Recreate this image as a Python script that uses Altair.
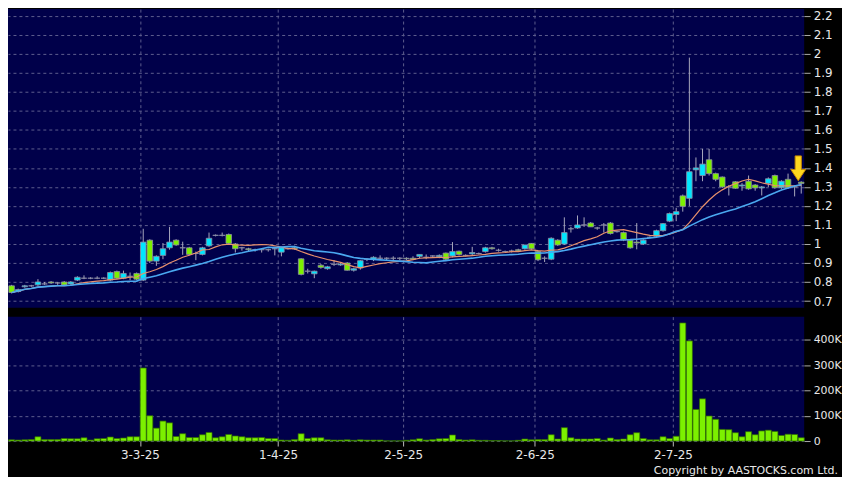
import altair as alt
import pandas as pd

# ---------------- data ----------------
tick_labels = ["3-3-25", "1-4-25", "2-5-25", "2-6-25", "2-7-25"]
tick_index = [20, 41, 60, 80, 101]          # trading-day index of first session of each month
price_ticks = [0.7, 0.8, 0.9, 1.0, 1.1, 1.2, 1.3, 1.4, 1.5, 1.6, 1.7, 1.8, 1.9, 2.0, 2.1, 2.2]
volume_ticks = [0, 100000, 200000, 300000, 400000]
copyright_text = "Copyright by AASTOCKS.com Ltd."

opens = [0.78, 0.75, 0.775, 0.78, 0.785, 0.79, 0.80, 0.795, 0.80, 0.79,
         0.81, 0.82, 0.82, 0.82, 0.82, 0.81, 0.855, 0.82, 0.83, 0.845,
         0.81, 1.02, 0.91, 0.94, 0.98, 1.02, 0.98, 0.98, 0.95, 0.945,
         0.99, 1.045, 1.045, 1.05, 1.0, 0.98, 0.975, 0.97, 0.97, 0.97,
         0.975, 0.957, 0.975, 0.98, 0.922, 0.857, 0.843, 0.888, 0.87, 0.893,
         0.89, 0.90, 0.862, 0.874, 0.92, 0.92, 0.925, 0.925, 0.925, 0.925,
         0.925, 0.925, 0.935, 0.93, 0.937, 0.933, 0.952, 0.937, 0.962, 0.94,
         0.948, 0.95, 0.96, 0.98, 0.967, 0.96, 0.963, 0.97, 0.975, 1.003,
         0.96, 0.925, 0.92, 1.02, 1.0, 1.08, 1.084, 1.10, 1.11, 1.084,
         1.10, 1.11, 1.065, 1.06, 1.02, 1.01, 1.0, 1.035, 1.04, 1.07,
         1.12, 1.155, 1.253, 1.24, 1.39, 1.36, 1.443, 1.37, 1.352, 1.30,
         1.327, 1.305, 1.33, 1.31, 1.295, 1.319, 1.36, 1.296, 1.34, 1.30,
         1.325]
highs = [0.785, 0.765, 0.785, 0.785, 0.815, 0.80, 0.805, 0.80, 0.805, 0.805,
         0.83, 0.835, 0.825, 0.83, 0.825, 0.855, 0.86, 0.86, 0.85, 0.85,
         1.08, 1.025, 0.94, 1.005, 1.09, 1.025, 1.012, 0.985, 0.96, 0.985,
         1.06, 1.05, 1.06, 1.055, 1.005, 0.985, 0.98, 0.975, 0.975, 0.975,
         0.98, 0.985, 0.98, 0.99, 0.925, 0.87, 0.86, 0.895, 0.885, 0.915,
         0.90, 0.905, 0.875, 0.915, 0.925, 0.935, 0.94, 0.93, 0.935, 0.93,
         0.93, 0.935, 0.945, 0.945, 0.94, 0.945, 0.955, 1.01, 0.965, 0.945,
         0.985, 0.955, 0.985, 0.985, 0.975, 0.965, 0.97, 0.975, 0.995, 1.005,
         0.965, 0.935, 1.035, 1.025, 1.14, 1.09, 1.15, 1.14, 1.115, 1.09,
         1.11, 1.115, 1.07, 1.065, 1.025, 1.11, 1.025, 1.04, 1.075, 1.11,
         1.165, 1.19, 1.26, 1.98, 1.455, 1.50, 1.50, 1.375, 1.355, 1.31,
         1.33, 1.32, 1.36, 1.315, 1.305, 1.35, 1.365, 1.335, 1.37, 1.31,
         1.33]
lows = [0.74, 0.745, 0.77, 0.775, 0.78, 0.785, 0.79, 0.785, 0.78, 0.785,
        0.805, 0.815, 0.815, 0.815, 0.815, 0.805, 0.815, 0.815, 0.81, 0.81,
        0.805, 0.90, 0.885, 0.92, 0.97, 0.99, 0.943, 0.94, 0.915, 0.94,
        0.985, 1.04, 1.04, 1.0, 0.955, 0.965, 0.96, 0.96, 0.955, 0.96,
        0.94, 0.935, 0.97, 0.97, 0.835, 0.845, 0.82, 0.87, 0.865, 0.885,
        0.885, 0.86, 0.855, 0.865, 0.91, 0.91, 0.915, 0.915, 0.915, 0.915,
        0.915, 0.915, 0.925, 0.92, 0.93, 0.925, 0.915, 0.93, 0.94, 0.935,
        0.94, 0.945, 0.955, 0.97, 0.96, 0.955, 0.955, 0.96, 0.97, 0.97,
        0.91, 0.905, 0.915, 0.99, 0.995, 1.06, 1.08, 1.09, 1.09, 1.075,
        1.06, 1.05, 1.06, 1.015, 0.975, 0.972, 0.995, 1.03, 1.035, 1.065,
        1.115, 1.12, 1.17, 1.20, 1.33, 1.33, 1.36, 1.33, 1.295, 1.255,
        1.29, 1.28, 1.285, 1.28, 1.255, 1.30, 1.29, 1.29, 1.29, 1.25,
        1.265]
closes = [0.745, 0.76, 0.78, 0.78, 0.80, 0.79, 0.795, 0.795, 0.785, 0.80,
          0.825, 0.82, 0.82, 0.82, 0.82, 0.85, 0.82, 0.845, 0.83, 0.815,
          1.01, 0.91, 0.935, 0.975, 1.01, 0.995, 0.98, 0.945, 0.95, 0.98,
          1.03, 1.046, 1.046, 1.003, 0.975, 0.98, 0.97, 0.97, 0.97, 0.97,
          0.975, 0.98, 0.975, 0.975, 0.84, 0.857, 0.857, 0.877, 0.88, 0.893,
          0.895, 0.862, 0.87, 0.912, 0.92, 0.93, 0.925, 0.925, 0.925, 0.925,
          0.922, 0.92, 0.945, 0.93, 0.937, 0.94, 0.92, 0.96, 0.945, 0.94,
          0.955, 0.95, 0.98, 0.975, 0.967, 0.96, 0.963, 0.965, 0.995, 0.975,
          0.917, 0.925, 1.03, 0.995, 1.06, 1.08, 1.10, 1.10, 1.09, 1.084,
          1.10, 1.055, 1.065, 1.02, 0.98, 1.005, 1.02, 1.035, 1.07, 1.107,
          1.16, 1.17, 1.198, 1.38, 1.40, 1.42, 1.37, 1.34, 1.30, 1.30,
          1.293, 1.31, 1.29, 1.295, 1.30, 1.343, 1.296, 1.33, 1.296, 1.30,
          1.318]
volumes_k = [5, 4, 5, 6, 17, 6, 6, 6, 10, 9, 9, 13, 4, 9, 10, 16, 10, 12, 17, 17,
             289, 100, 51, 79, 72, 18, 29, 14, 14, 25, 34, 13, 17, 26, 20, 17, 13, 13, 14, 10, 10,
             4, 3, 6, 29, 10, 13, 13, 5, 4, 4, 5, 3, 5, 4, 4, 4, 1, 1, 1, 3, 5,
             9, 4, 6, 9, 10, 24, 6, 4, 5, 3, 3, 2, 2, 1, 1, 3, 8, 5, 6, 6,
             25, 8, 53, 13, 8, 8, 8, 10, 4, 12, 6, 8, 25, 33, 10, 5, 5, 17, 10, 19,
             467, 396, 125, 167, 99, 86, 46, 45, 33, 17, 37, 25, 40, 43, 38, 22, 27, 26, 13]

# ---------------- tables ----------------
n = len(opens)
df = pd.DataFrame({
    "idx": list(range(n)),
    "open": opens, "high": highs, "low": lows, "close": closes,
    "volume": [v * 1000 for v in volumes_k],
})
arrow_df = df.tail(1)
copy_df = pd.DataFrame({"t": [copyright_text]})

# ---------------- styling ----------------
CYAN = "#00e6ff"
GREEN = "#7cf000"
PANEL = "#00004a"
GRID = "#5e5e8e"
LABEL = "#e8e8e8"
W = 800
H_MAIN = 300
H_VOL = 125

grid_pos = [i - 0.5 for i in tick_index]
label_expr = " : ".join(
    [f"datum.value == {p} ? '{t}'" for p, t in zip(grid_pos, tick_labels)]
) + " : ''"

x_scale = alt.Scale(domain=[-0.55, n - 0.55], nice=False, zero=False)
x_axis_main = alt.Axis(values=grid_pos, labels=False, ticks=False, domain=False,
                       grid=True, gridColor=GRID, gridDash=[3, 3], title=None)
x_axis_vol = alt.Axis(values=grid_pos, labelExpr=label_expr, ticks=True, tickSize=5,
                      tickColor="#bbbbbb", domain=False, grid=True, gridColor=GRID,
                      gridDash=[3, 3], title=None, labelColor=LABEL, labelFontSize=12,
                      labelPadding=4, labelFont="DejaVu Sans", labelOverlap=False)

y_scale = alt.Scale(domain=[0.665, 2.235], nice=False, zero=False)
y_axis = alt.Axis(orient="right", values=price_ticks, format=".2~f", grid=True,
                  gridColor=GRID, gridDash=[3, 3], tickSize=6, tickColor="#aaaaaa",
                  domain=False, labelPadding=3, title=None, labelColor=LABEL,
                  labelFontSize=12, labelFont="DejaVu Sans", labelOverlap=False,
                  labelBound=False)

base = alt.Chart(df)

wicks = base.mark_rule(color="#a8a8bc", strokeWidth=1).encode(
    x=alt.X("idx:Q", scale=x_scale, axis=x_axis_main),
    y=alt.Y("low:Q", scale=y_scale, axis=y_axis),
    y2="high:Q",
)

bodies = base.transform_calculate(
    x0="datum.idx - 0.42", x1="datum.idx + 0.42"
).mark_bar(stroke="#8e8ea6", strokeWidth=0.8).encode(
    x=alt.X("x0:Q", scale=x_scale, axis=x_axis_main),
    x2="x1:Q",
    y=alt.Y("open:Q", scale=y_scale, axis=y_axis),
    y2="close:Q",
    color=alt.condition("datum.close > datum.open", alt.value(CYAN), alt.value(GREEN)),
)

ma10 = base.transform_window(
    ma10="mean(close)", frame=[-9, 0], sort=[alt.SortField("idx")]
).mark_line(color="#e8906c", strokeWidth=1.2).encode(
    x=alt.X("idx:Q", scale=x_scale, axis=x_axis_main),
    y=alt.Y("ma10:Q", scale=y_scale, axis=y_axis)
)

ma20 = base.transform_window(
    ma20="mean(close)", frame=[-19, 0], sort=[alt.SortField("idx")]
).mark_line(color="#4aa8f0", strokeWidth=1.6).encode(
    x=alt.X("idx:Q", scale=x_scale, axis=x_axis_main),
    y=alt.Y("ma20:Q", scale=y_scale, axis=y_axis)
)

arrow_path = "M-0.25,-1 L0.25,-1 L0.25,0.1 L0.6,0.1 L0,1 L-0.6,0.1 L-0.25,0.1 Z"
arrow = alt.Chart(arrow_df).mark_point(
    shape=arrow_path, size=620, filled=True, fill="#ffd81e", stroke="#c88a00",
    strokeWidth=1, opacity=1, yOffset=-13, xOffset=-3
).encode(
    x=alt.X("idx:Q", scale=x_scale, axis=x_axis_main),
    y=alt.Y("high:Q", scale=y_scale, axis=y_axis)
)

price_panel = alt.layer(wicks, bodies, ma10, ma20, arrow).properties(width=W, height=H_MAIN)

vol_scale = alt.Scale(domain=[0, 492000], nice=False)
vol_axis = alt.Axis(orient="right", values=volume_ticks,
                    labelExpr="datum.value == 0 ? '0' : format(datum.value / 1000, 'd') + 'K'",
                    grid=True, gridColor=GRID, gridDash=[3, 3], tickSize=6,
                    tickColor="#aaaaaa", domain=False, labelPadding=3, title=None,
                    labelColor=LABEL, labelFontSize=11, labelFont="DejaVu Sans",
                    labelOverlap=False)

vol_bars = base.transform_calculate(
    x0="datum.idx - 0.46", x1="datum.idx + 0.46"
).mark_bar(color="#7cf000", stroke="#2f6a00", strokeWidth=0.7).encode(
    x=alt.X("x0:Q", scale=x_scale, axis=x_axis_vol),
    x2="x1:Q",
    y=alt.Y("volume:Q", scale=vol_scale, axis=vol_axis),
    y2=alt.datum(0),
)

copyright_mark = alt.Chart(copy_df).mark_text(
    align="right", baseline="alphabetic", color=LABEL, fontSize=11, font="DejaVu Sans"
).encode(
    x=alt.value(W + 34), y=alt.value(H_VOL + 33), text="t:N"
)

vol_panel = alt.layer(vol_bars, copyright_mark).properties(width=W, height=H_VOL)

chart = alt.vconcat(price_panel, vol_panel, spacing=9).properties(
    padding=0
).configure(background="#000000").configure_view(fill=PANEL, stroke=None)

chart.save("out.html", embed_options={"renderer": "svg", "actions": False})
